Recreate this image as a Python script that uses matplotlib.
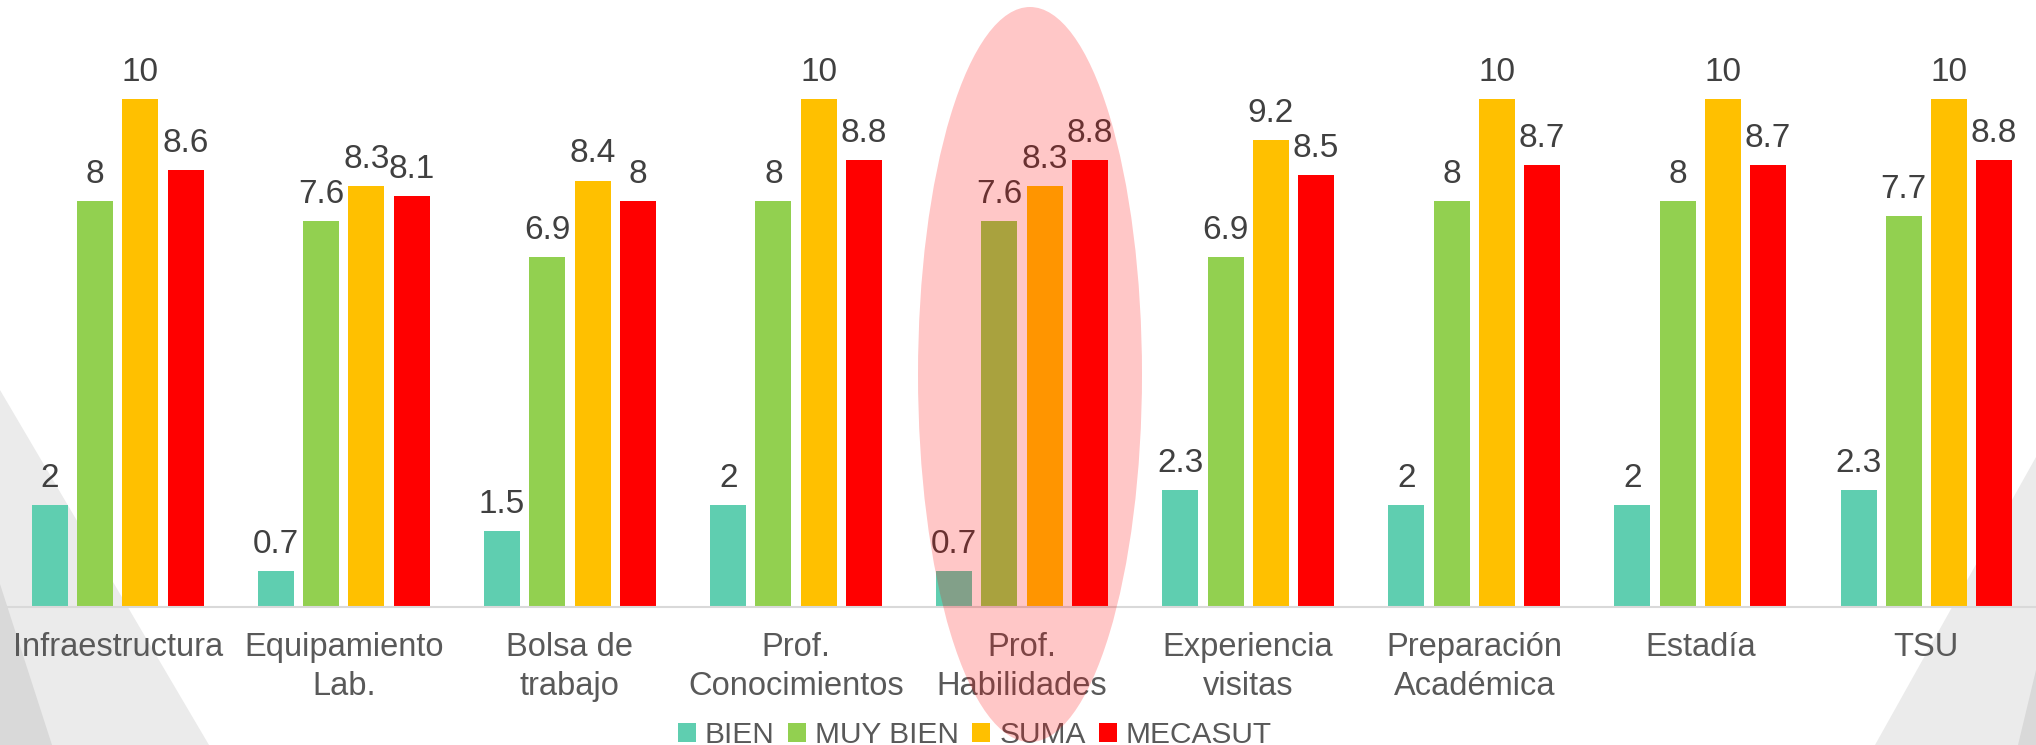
import matplotlib
matplotlib.use("Agg")
import matplotlib.pyplot as plt
from matplotlib.patches import Ellipse, Polygon
import numpy as np

# --- data ---
categories = ["Infraestructura", "Equipamiento\nLab.", "Bolsa de\ntrabajo",
              "Prof.\nConocimientos", "Prof.\nHabilidades", "Experiencia\nvisitas",
              "Preparación\nAcadémica", "Estadía", "TSU"]
series_names = ["BIEN", "MUY BIEN", "SUMA", "MECASUT"]
bien = [2, 0.7, 1.5, 2, 0.7, 2.3, 2, 2, 2.3]
muy_bien = [8, 7.6, 6.9, 8, 7.6, 6.9, 8, 8, 7.7]
suma = [10, 8.3, 8.4, 10, 8.3, 9.2, 10, 10, 10]
mecasut = [8.6, 8.1, 8, 8.8, 8.8, 8.5, 8.7, 8.7, 8.8]

colors = ["#5FCEB0", "#92D050", "#FFC000", "#FF0000"]

plt.rcParams['font.family'] = ['Liberation Sans', 'DejaVu Sans']

W, H = 2036, 745
fig = plt.figure(figsize=(W / 100, H / 100), dpi=100)
fig.patch.set_facecolor("white")


def px(x, y):
    # pixel coords (top-left origin) -> figure fraction
    return (x / W, 1 - y / H)


# --- background decoration ---
for pts, col in [
    ([(0, 390), (209, 745), (0, 745)], "#EBEBEB"),
    ([(0, 584), (52, 745), (0, 745)], "#D9D9D9"),
    ([(2036, 457), (1875, 745), (2036, 745)], "#EBEBEB"),
    ([(2036, 670), (2018, 745), (2036, 745)], "#D9D9D9"),
]:
    fig.add_artist(Polygon([px(*p) for p in pts], closed=True, facecolor=col,
                           edgecolor="none", transform=fig.transFigure, zorder=-5))

# --- chart ---
ax = fig.add_axes([0, 138 / H, 1, 1 - 138 / H])
ax.set_facecolor("none")

x = np.arange(len(categories))
pitch = 0.2
width = 0.159
for i, (vals, name, col) in enumerate(zip([bien, muy_bien, suma, mecasut], series_names, colors)):
    bars = ax.bar(x + (i - 1.5) * pitch, vals, width, color=col, label=name, zorder=2)
    ax.bar_label(bars, labels=[f"{v:g}" for v in vals], padding=8,
                 fontsize=24, color="#404040")

ax.set_xlim(-0.521, 8.485)
ax.set_ylim(0, 11.956)
ax.set_yticks([])
ax.set_xticks(x)
ax.set_xticklabels(categories, fontsize=23.5, color="#595959", linespacing=1.32)
ax.tick_params(axis="x", length=0, pad=18)
for s in ["top", "left", "right"]:
    ax.spines[s].set_visible(False)
ax.spines["bottom"].set_color("#D9D9D9")
ax.spines["bottom"].set_linewidth(1.5)

leg = fig.legend(loc="center", bbox_to_anchor=px(975, 735), ncol=4, frameon=False,
                 fontsize=21.5, handlelength=0.6, handleheight=0.6, handletextpad=0.3,
                 columnspacing=0.45, borderpad=0)
for t in leg.get_texts():
    t.set_color("#595959")

# --- highlight ellipse ---
ell = Ellipse(px(1030, 374.5), 224 / W, 735 / H, transform=fig.transFigure,
              facecolor="#FF0000", alpha=0.22, edgecolor="none", zorder=10)
fig.add_artist(ell)

fig.savefig("out.png", dpi=100)
